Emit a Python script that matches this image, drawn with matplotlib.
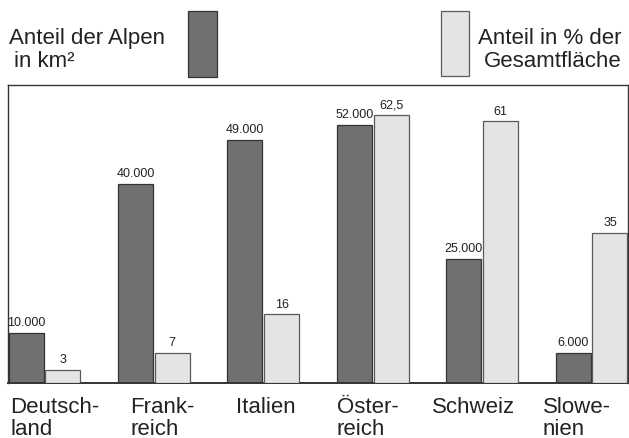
import matplotlib
matplotlib.use("Agg")
import matplotlib.pyplot as plt
from matplotlib.patches import Rectangle

# Alpine area per country
countries = ["Deutsch-\nland", "Frank-\nreich", "Italien", "Öster-\nreich", "Schweiz", "Slowe-\nnien"]
area_km2 = [10000, 40000, 49000, 52000, 25000, 6000]
share_pct = [3, 7, 16, 62.5, 61, 35]

DARK = "#707070"
LIGHT = "#e4e4e4"
FONT = "Liberation Sans"

W, H = 629, 439
fig = plt.figure(figsize=(W / 100, H / 100), dpi=100)

def fx(px):
    return px / W

def fy(py):
    return 1 - py / H

ax = fig.add_axes([fx(8), fy(384), fx(628) - fx(8), fy(86) - fy(384)])
ax2 = ax.twinx()

x = list(range(len(countries)))
bw = 0.32
off = 0.168
ax.bar([i - off for i in x], area_km2, width=bw, color=DARK, edgecolor="#333333", linewidth=0.9, zorder=2)
ax2.bar([i + off for i in x], share_pct, width=bw, color=LIGHT, edgecolor="#5a5a5a", linewidth=0.9, zorder=2)

ax.set_xlim(-0.333, 5.333)
ax.set_ylim(0, 60000)
ax2.set_ylim(0, 69.5)

def de_int(v):
    return f"{v:,.0f}".replace(",", ".")

def de_num(v):
    s = f"{v:g}"
    return s.replace(".", ",")

for i, v in zip(x, area_km2):
    ax.annotate(de_int(v), (i - off, v), xytext=(0, 3.5), textcoords="offset points",
                ha="center", va="bottom", fontsize=9, family=FONT, color="#222222")
for i, v in zip(x, share_pct):
    ax2.annotate(de_num(v), (i + off, v), xytext=(0, 3.5), textcoords="offset points",
                 ha="center", va="bottom", fontsize=9, family=FONT, color="#222222")

for a in (ax, ax2):
    a.set_xticks([])
    a.set_yticks([])
for s in ax2.spines.values():
    s.set_visible(False)
for s in ax.spines.values():
    s.set_color("#333333")
    s.set_linewidth(1.0)
ax.spines["bottom"].set_linewidth(1.4)

# Country names below the baseline
label_left_px = [10, 130, 236, 337, 432, 543]
for lx, name in zip(label_left_px, countries):
    fig.text(fx(lx), fy(397), name, ha="left", va="top", fontsize=16, family=FONT,
             color="#222222", linespacing=1.05)

# Legend
fig.text(fx(9), fy(44), "Anteil der Alpen", ha="left", va="baseline", fontsize=16,
         family=FONT, color="#222222")
fig.text(fx(14), fy(67), "in km²", ha="left", va="baseline", fontsize=16,
         family=FONT, color="#222222")
fig.text(fx(622), fy(44), "Anteil in % der", ha="right", va="baseline", fontsize=16,
         family=FONT, color="#222222")
fig.text(fx(622), fy(67), "Gesamtfläche", ha="right", va="baseline", fontsize=16,
         family=FONT, color="#222222")

fig.patches.append(Rectangle((fx(188), fy(78)), fx(217) - fx(188), fy(12) - fy(78),
                             transform=fig.transFigure, facecolor=DARK, edgecolor="#333333",
                             linewidth=0.9))
fig.patches.append(Rectangle((fx(441), fy(77)), fx(469) - fx(441), fy(12) - fy(77),
                             transform=fig.transFigure, facecolor=LIGHT, edgecolor="#5a5a5a",
                             linewidth=0.9))

fig.savefig("out.png", dpi=100)
